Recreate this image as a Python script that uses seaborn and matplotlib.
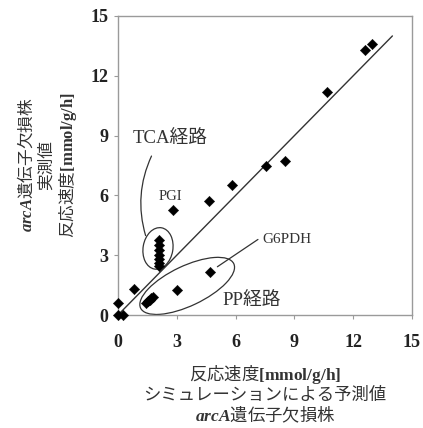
import matplotlib
matplotlib.use('Agg')
import matplotlib.pyplot as plt
import seaborn as sns
import pandas as pd
from matplotlib.patches import Ellipse, FancyArrowPatch

# simulated (x) vs measured (y) reaction rates, arcA knockout
sim_rate = [0, 0, 0.25, 0.8, 1.45, 1.55, 1.62, 1.7, 1.78, 3.0, 4.7,
            2.1, 2.1, 2.1, 2.1, 2.1, 2.1, 2.1,
            2.8, 4.65, 5.8, 7.55, 8.5, 10.65, 12.6, 12.95]
meas_rate = [0.6, 0, 0, 1.3, 0.6, 0.68, 0.75, 0.83, 0.9, 1.25, 2.15,
             3.75, 3.5, 3.25, 3.0, 2.8, 2.6, 2.45,
             5.25, 5.7, 6.5, 7.45, 7.75, 11.2, 13.3, 13.6]
diag_x = [0, 14]
diag_y = [0, 14]
ticks = [0, 3, 6, 9, 12, 15]

sns.set_style('ticks')
plt.rcParams['font.family'] = ['Liberation Serif', 'Noto Sans CJK JP']
plt.rcParams['mathtext.fontset'] = 'custom'
plt.rcParams['mathtext.rm'] = 'Liberation Serif'
plt.rcParams['mathtext.bf'] = 'Liberation Serif:bold'
plt.rcParams['mathtext.it'] = 'Liberation Serif:italic'
plt.rcParams['mathtext.bfit'] = 'Liberation Serif:italic:bold'

df = pd.DataFrame({'sim': sim_rate, 'meas': meas_rate})

fig = plt.figure(figsize=(4.23, 4.28), dpi=100)
ax = fig.add_axes([118 / 423, 1 - 315 / 428, 294 / 423, 299 / 428])

sns.lineplot(x=diag_x, y=diag_y, ax=ax, color='#333333', lw=1.0)
sns.scatterplot(data=df, x='sim', y='meas', ax=ax, marker='D', s=28,
                color='black', edgecolor='black', linewidth=0.3,
                clip_on=False, zorder=5)

ax.set_xlim(0, 15)
ax.set_ylim(0, 15)
ax.set_xticks(ticks)
ax.set_yticks(ticks)
ax.set_xlabel('')
ax.set_ylabel('')
for s in ax.spines.values():
    s.set_color('#9a9a9a')
    s.set_linewidth(1.0)
ax.tick_params(axis='both', length=3, width=0.8, color='#9a9a9a',
               labelsize=13, labelcolor='#222222')
ax.tick_params(axis='x', pad=11)
ax.tick_params(axis='y', pad=4)
for lab in ax.get_xticklabels() + ax.get_yticklabels():
    lab.set_fontweight('bold')

# groupings
ax.add_patch(Ellipse((2.04, 3.34), 1.52, 2.1, angle=-10, fill=False,
                     ec='#333333', lw=0.9))
ax.add_patch(Ellipse((3.53, 1.46), 5.25, 2.0, angle=25, fill=False,
                     ec='#333333', lw=0.9))
ax.add_patch(FancyArrowPatch((1.77, 8.1), (1.45, 3.85), arrowstyle='-',
                             connectionstyle='arc3,rad=0.2',
                             color='#333333', lw=0.9))
ax.plot([5.07, 7.14], [2.42, 3.79], color='#333333', lw=0.9)

ax.text(2.67, 8.83, 'TCA経路', fontsize=13.5, color='#333333',
        ha='center', va='center')
ax.text(2.7, 5.92, 'PGI', fontsize=10.5, color='#333333',
        ha='center', va='center')
ax.text(7.35, 3.8, 'G6PDH', fontsize=11, color='#333333',
        ha='left', va='center')
ax.text(6.81, 0.75, 'PP経路', fontsize=13.5, color='#333333',
        ha='center', va='center')

# non-math parts of mixed lines use the text's own font -> CJK family here
fig.text(48 / 423, 1 - 165 / 428,
         '$\\mathbfit{arcA}$遺伝子欠損株\n実測値\n反応速度$\\mathbf{[mmol/g/h]}$',
         rotation=90, ha='center', va='center', multialignment='center',
         fontsize=12, color='#333333', linespacing=1.15,
         family='Noto Sans CJK JP')
fig.text(265 / 423, 1 - 394 / 428,
         '反応速度$\\mathbf{[mmol/g/h]}$\nシミュレーションによる予測値\n$\\mathbfit{arcA}$遺伝子欠損株',
         ha='center', va='center', multialignment='center',
         fontsize=12.5, color='#333333', linespacing=1.05,
         family='Noto Sans CJK JP')

fig.savefig('out.png', dpi=100)
